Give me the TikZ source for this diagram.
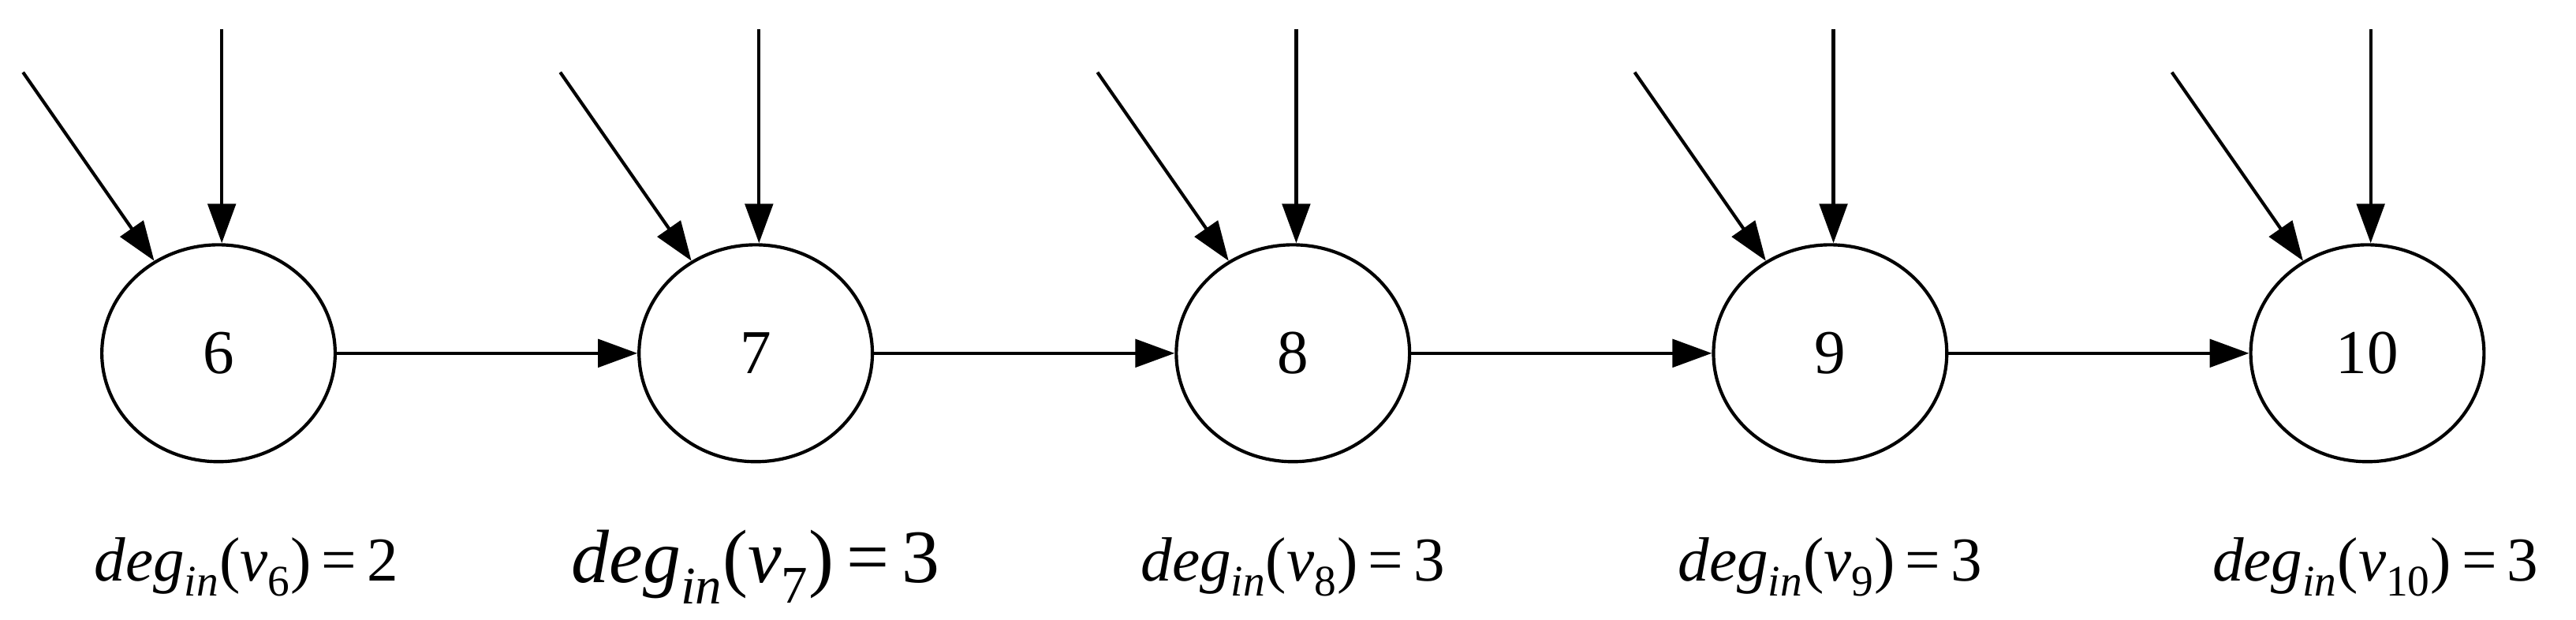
\documentclass[tikz,border=0pt]{standalone}
\usepackage{fontspec}
\setmainfont{Liberation Serif}
\usetikzlibrary{arrows.meta,shapes.geometric}
\newcommand\dg[2]{\textit{deg}\textsubscript{\textit{in}}(\textit{v}\textsubscript{#1})\,=\,#2}
\begin{document}
\begin{tikzpicture}[x=1pt,y=1pt,line width=2pt,
  vert/.style={draw,ellipse,minimum width=142pt,minimum height=132pt,inner sep=0pt,font=\fontsize{38}{44}\selectfont},
  arr/.style={-{Triangle[length=24pt,width=17pt]}},
  lab/.style={font=\fontsize{38}{44}\selectfont},
  biglab/.style={font=\fontsize{46}{54}\selectfont}]
\useasboundingbox (0,0) rectangle (1568,-377);
\foreach \i/\x in {6/133,7/460,8/787,9/1114,10/1441}{
  \node[vert] (n\i) at (\x,-215) {\i};
  \coordinate (d\i) at (\x-119,-44);
  \coordinate (t\i) at (\x+2,-18);
  \draw[arr] (d\i) -- (n\i);
  \draw[arr] (t\i) -- (\x+2,-148);
}
\foreach \a/\b in {6/7,7/8,8/9,9/10}{\draw[arr] (n\a.east) -- (n\b.west);}
\node[lab] (l6) at (150,-345) {\dg{6}{2}};
\node[biglab] (l7) at (460,-345) {\dg{7}{3}};
\node[lab] (l8) at (787,-345) {\dg{8}{3}};
\node[lab] (l9) at (1114,-345) {\dg{9}{3}};
\node[lab] (l10) at (1446,-345) {\dg{10}{3}};
\end{tikzpicture}
\end{document}
